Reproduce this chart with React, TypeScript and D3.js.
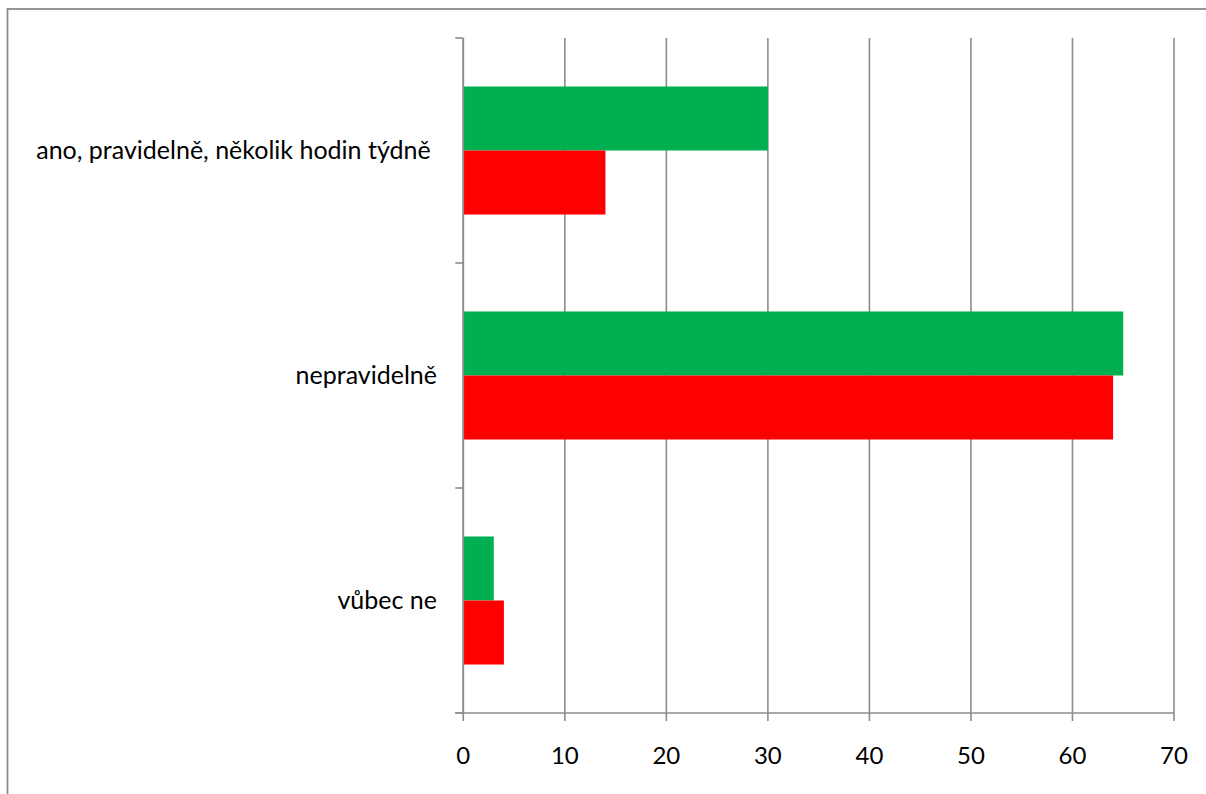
import React from "react";
import * as d3 from "d3";

const categories = [
  "ano, pravidelně, několik hodin týdně ",
  "nepravidelně",
  "vůbec ne",
];
const seriesNames = ["A", "B"];
const greenValues = [30, 65, 3];
const redValues = [14, 64, 4];
const xTicks = [0, 10, 20, 30, 40, 50, 60, 70];
const seriesColors = ["#00B050", "#FF0000"];

const W = 1206;
const H = 794;
const FONT = "Lato, 'Open Sans', sans-serif";
const GRID = "#8c8c8c";

export default function App() {
  const left = 463.3;
  const right = 1174;
  const top = 38;
  const bottom = 713;

  const x = d3.scaleLinear().domain([0, 70]).range([left, right]);
  const y = d3
    .scaleBand<string>()
    .domain(categories)
    .range([top, bottom])
    .paddingInner(0.431)
    .paddingOuter(0.2155);
  const inner = d3
    .scaleBand<string>()
    .domain(seriesNames)
    .range([0, y.bandwidth()]);

  const step = y.step();
  const boundaries = d3.range(categories.length + 1).map((i) => top + i * step);
  const values = [greenValues, redValues];

  return (
    <svg
      width={W}
      height={H}
      style={{ position: "absolute", left: 0, top: 0, background: "#fff" }}
    >
      {/* outer frame */}
      <rect
        x={7.5}
        y={9}
        width={W + 20}
        height={H + 20}
        fill="none"
        stroke={GRID}
        strokeWidth={1.8}
      />

      {/* vertical gridlines with tick marks below the axis */}
      {xTicks.map((t) => (
        <line
          key={"g" + t}
          x1={x(t)}
          x2={x(t)}
          y1={top}
          y2={bottom + 8}
          stroke={GRID}
          strokeWidth={1.6}
        />
      ))}

      {/* category axis ticks */}
      {boundaries.map((b, i) => (
        <line
          key={"yt" + i}
          x1={left - 8}
          x2={left}
          y1={b}
          y2={b}
          stroke={GRID}
          strokeWidth={1.6}
        />
      ))}

      {/* bottom axis line */}
      <line x1={left - 8} x2={right} y1={bottom} y2={bottom} stroke={GRID} strokeWidth={1.6} />

      {/* bars */}
      {categories.map((c, ci) =>
        seriesNames.map((s, si) => (
          <rect
            key={c + s}
            x={x(0)}
            y={(y(c) as number) + (inner(s) as number)}
            width={x(values[si][ci]) - x(0)}
            height={inner.bandwidth()}
            fill={seriesColors[si]}
          />
        ))
      )}

      {/* left axis line */}
      <line x1={left} x2={left} y1={top} y2={bottom} stroke={GRID} strokeWidth={1.6} />

      {/* x tick labels */}
      {xTicks.map((t) => (
        <text
          key={"l" + t}
          x={x(t)}
          y={764}
          textAnchor="middle"
          fontFamily={FONT}
          fontSize={24}
          fill="#000"
        >
          {t}
        </text>
      ))}

      {/* category labels */}
      {categories.map((c) => (
        <text
          key={"c" + c}
          x={437}
          y={(y(c) as number) + y.bandwidth() / 2 + 8.5}
          textAnchor="end"
          fontFamily={FONT}
          fontSize={25}
          fill="#000"
          style={{ whiteSpace: "pre" }}
        >
          {c}
        </text>
      ))}
    </svg>
  );
}
